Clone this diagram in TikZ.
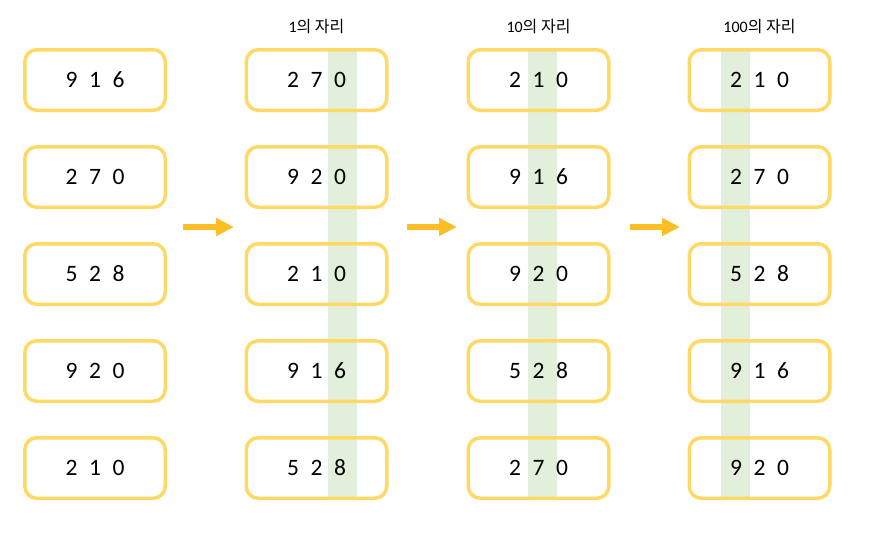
\documentclass[tikz,border=0pt]{standalone}
\usepackage{fontspec}
\setmainfont{Carlito}
\newfontfamily\krfont{Noto Sans CJK KR}
\usetikzlibrary{arrows.meta, calc}
\definecolor{boxgold}{RGB}{255,217,102}
\definecolor{stripegreen}{RGB}{226,239,218}
\definecolor{arroworange}{RGB}{251,190,36}
\tikzset{numbox/.style = {draw=boxgold, line width=3.5pt, rounded corners=12pt, minimum width=140.5pt, minimum height=60.5pt, inner sep=0pt, font=\fontsize{23.5}{26}\selectfont}}
\tikzset{colhead/.style = {inner sep=0pt, font=\fontsize{16}{18}\selectfont}}
\tikzset{movearrow/.style = {arroworange, line width=6pt, -{Triangle[length=18pt, width=17pt]}}}
\newcommand{\trio}[3]{\raisebox{-1.5pt}{\makebox[23.5pt]{#1}\makebox[23.5pt]{#2}\makebox[23.5pt]{#3}}}

\begin{document}
\begin{tikzpicture}[x=1pt, y=-1pt]
\useasboundingbox (0,0) rectangle (873,539);
% digit being sorted on
\fill [stripegreen] (328,48) rectangle (357,500);
\fill [stripegreen] (528,48) rectangle (557,500);
\fill [stripegreen] (721,48) rectangle (750,500);
% boxes
\foreach \a/\b/\c [count=\r] in {9/1/6, 2/7/0, 5/2/8, 9/2/0, 2/1/0}
  \node [numbox] (b1\r) at (95, {80+97*(\r-1)}) {\trio{\a}{\b}{\c}};
\foreach \a/\b/\c [count=\r] in {2/7/0, 9/2/0, 2/1/0, 9/1/6, 5/2/8}
  \node [numbox] (b2\r) at (316.5, {80+97*(\r-1)}) {\trio{\a}{\b}{\c}};
\foreach \a/\b/\c [count=\r] in {2/1/0, 9/1/6, 9/2/0, 5/2/8, 2/7/0}
  \node [numbox] (b3\r) at (538.5, {80+97*(\r-1)}) {\trio{\a}{\b}{\c}};
\foreach \a/\b/\c [count=\r] in {2/1/0, 2/7/0, 5/2/8, 9/1/6, 9/2/0}
  \node [numbox] (b4\r) at (759.5, {80+97*(\r-1)}) {\trio{\a}{\b}{\c}};
% headers
\node [colhead] (h2) at (b21.north) [yshift=21pt] {1{\krfont 의 자리}};
\node [colhead] (h3) at (b31.north) [yshift=21pt] {10{\krfont 의 자리}};
\node [colhead] (h4) at (b41.north) [yshift=21pt] {100{\krfont 의 자리}};
% arrows
\coordinate (a1s) at (183,227);
\coordinate (a1e) at (234,227);
\coordinate (a2s) at (407,227);
\coordinate (a2e) at (457,227);
\coordinate (a3s) at (630,227);
\coordinate (a3e) at (680,227);
\draw [movearrow] (a1s) -- (a1e);
\draw [movearrow] (a2s) -- (a2e);
\draw [movearrow] (a3s) -- (a3e);
\end{tikzpicture}
\end{document}
